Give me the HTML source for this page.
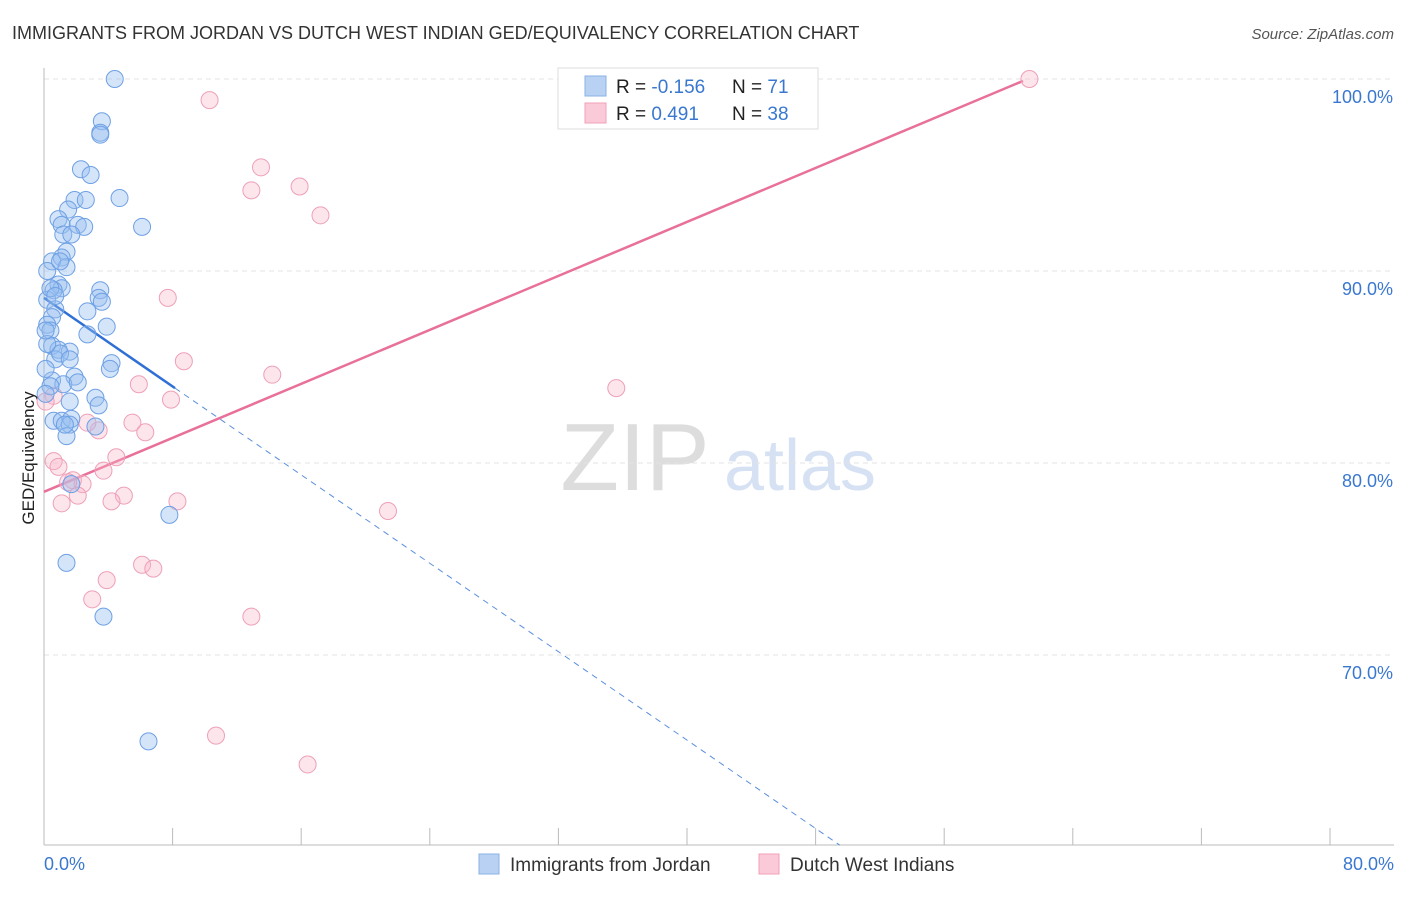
<!DOCTYPE html>
<html><head><meta charset="utf-8"><style>
body{margin:0;background:#fff;font-family:"Liberation Sans",sans-serif;}
svg text{font-family:"Liberation Sans",sans-serif;}
</style></head><body>
<svg id="c" width="1406" height="892" xmlns="http://www.w3.org/2000/svg">
<text x="12" y="39" font-size="18" fill="#333">IMMIGRANTS FROM JORDAN VS DUTCH WEST INDIAN GED/EQUIVALENCY CORRELATION CHART</text>
<text x="1394" y="39" font-size="15" fill="#555" text-anchor="end" font-style="italic">Source: ZipAtlas.com</text>
<text x="0" y="0" transform="translate(34,458) rotate(-90)" font-size="17" fill="#222" text-anchor="middle">GED/Equivalency</text>
<g><text x="635" y="490" font-size="96" fill="#ddd" text-anchor="middle" font-family="Liberation Serif">ZIP</text><text x="800" y="490" font-size="72" fill="#d6e2f3" text-anchor="middle">atlas</text></g>
<g id="grid"></g><g id="axes"></g><g id="lines"></g><g id="pts"></g>
<g>
<rect x="558" y="68" width="260" height="61" fill="#fff" stroke="#ddd"/>
<rect x="585" y="76" width="21" height="20" fill="#b9d2f4" stroke="#8ab0e6"/>
<rect x="585" y="103" width="21" height="20" fill="#fbcad8" stroke="#f0a0b8"/>
<text x="616" y="93" font-size="19" fill="#222">R = <tspan fill="#3a78d0">-0.156</tspan></text>
<text x="732" y="93" font-size="19" fill="#222">N = <tspan fill="#3a78d0"> 71</tspan></text>
<text x="616" y="120" font-size="19" fill="#222">R = <tspan fill="#3a78d0"> 0.491</tspan></text>
<text x="732" y="120" font-size="19" fill="#222">N = <tspan fill="#3a78d0">38</tspan></text>
</g>
<g>
<rect x="479" y="854" width="20" height="20" fill="#b9d2f4" stroke="#8ab0e6"/>
<text x="510" y="871" font-size="19" fill="#333">Immigrants from Jordan</text>
<rect x="759" y="854" width="20" height="20" fill="#fbcad8" stroke="#f0a0b8"/>
<text x="790" y="871" font-size="19" fill="#333">Dutch West Indians</text>
</g>
</svg>
<script>
const yTicks=[100,90,80,70];
const xTickLabels=["0.0%","80.0%"];
const blueX=[4.4,3.6,3.5,3.5,2.3,2.9,1.9,2.6,4.7,1.5,0.9,1.1,2.1,2.5,6.1,1.2,1.4,1.1,0.5,1.4,0.9,1.1,0.6,3.5,3.4,3.6,0.2,2.7,0.7,0.5,0.2,3.9,0.4,2.7,0.5,0.9,1.6,0.7,4.2,4.1,1.9,0.5,1.2,2.1,0.4,3.2,1.6,3.4,0.6,1.1,1.7,1.6,3.2,1.4,1.7,7.8,1.4,3.7,6.5,0.2,0.4,0.7,1.0,0.1,0.1,1.3,1.0,0.2,1.7,1.6,0.1];
const blueY=[100,97.8,97.2,97.1,95.3,95.0,93.7,93.7,93.8,93.2,92.7,92.4,92.4,92.3,92.3,91.9,91.0,90.7,90.5,90.2,89.3,89.1,89.0,89.0,88.6,88.4,88.5,87.9,88.0,87.6,87.2,87.1,86.9,86.7,86.1,85.9,85.8,85.4,85.2,84.9,84.5,84.3,84.1,84.2,84.0,83.4,83.2,83.0,82.2,82.2,82.3,82.0,81.9,81.4,78.9,77.3,74.8,72.0,65.5,90.0,89.1,88.7,85.7,84.9,83.6,82.0,90.5,86.2,91.9,85.4,86.9];
const pinkX=[61.3,10.3,13.5,12.9,15.9,17.2,7.7,8.7,14.2,35.6,5.9,7.9,0.6,5.5,6.3,3.4,2.7,4.5,0.6,0.9,3.7,1.8,2.4,1.5,4.97,4.2,8.3,2.1,1.1,21.4,6.1,6.8,3.9,3.0,12.9,10.7,16.4,0.1];
const pinkY=[100,98.9,95.4,94.2,94.4,92.9,88.6,85.3,84.6,83.9,84.1,83.3,83.5,82.1,81.6,81.7,82.1,80.3,80.1,79.8,79.6,79.1,78.9,79.0,78.3,78.0,78.0,78.3,77.9,77.5,74.7,74.5,73.9,72.9,72.0,65.8,64.3,83.2];
const blueTrend=[[0,88.6],[8.15,83.9]];
const blueDash=[[8.15,83.9],[49.5,60.1]];
const pinkTrend=[[0,78.5],[60.9,99.9]];
const NS="http://www.w3.org/2000/svg";
const X=v=>44+v/80*1286, Y=v=>79+(100-v)*19.2;
function mk(t,a,p){const e=document.createElementNS(NS,t);for(const k in a)e.setAttribute(k,a[k]);p.appendChild(e);return e;}
const grid=document.getElementById('grid'),axes=document.getElementById('axes'),lines=document.getElementById('lines'),pts=document.getElementById('pts');
yTicks.forEach(t=>{
 const l=mk('line',{x1:44,x2:1394,y1:Y(t),y2:Y(t),stroke:'#e3e3e3','stroke-dasharray':'5,4'},grid);
 
 
 const tx=mk('text',{x:1393,y:Y(t)+24,'font-size':18,fill:'#3a78d0','text-anchor':'end'},axes);
 tx.textContent=t.toFixed(1)+'%';
 
 
});
const ax=mk('line',{x1:44,x2:44,y1:68,y2:845,stroke:'#bbb'},axes);


const bx=mk('line',{x1:44,x2:1394,y1:845,y2:845,stroke:'#bbb'},axes);


for(let i=0;i<=10;i++){const t=mk('line',{x1:X(i*8),x2:X(i*8),y1:828,y2:845,stroke:'#bbb'},axes);
 
 }
[[0,'start'],[80,'end']].forEach((d,i)=>{const t=mk('text',{x:i?1394:44,y:870,'font-size':18,fill:'#3a78d0','text-anchor':d[1]},axes);t.textContent=xTickLabels[i];
 
 });
function ln(p,st,dash,name){const e=mk('line',{x1:X(p[0][0]),y1:Y(p[0][1]),x2:X(p[1][0]),y2:Y(p[1][1]),stroke:st,'stroke-width':dash?1:2.5},lines);if(dash)e.setAttribute('stroke-dasharray','6,5');
 
 }
ln(blueTrend,'#2f6fd6',0,'jordan-trendline');
ln(blueDash,'#5a8fdc',1,'jordan-trendline-extension');
ln(pinkTrend,'#e8709a',0,'dutch-trendline');
pinkX.forEach((v,i)=>{const c=mk('circle',{cx:X(v),cy:Y(pinkY[i]),r:8.5,fill:'rgba(248,180,200,0.35)',stroke:'#eea0b8','stroke-width':1},pts);
 
 });
blueX.forEach((v,i)=>{const c=mk('circle',{cx:X(v),cy:Y(blueY[i]),r:8.5,fill:'rgba(150,190,240,0.4)',stroke:'#6ea0e4','stroke-width':1},pts);
 
 });
</script>
</body></html>
